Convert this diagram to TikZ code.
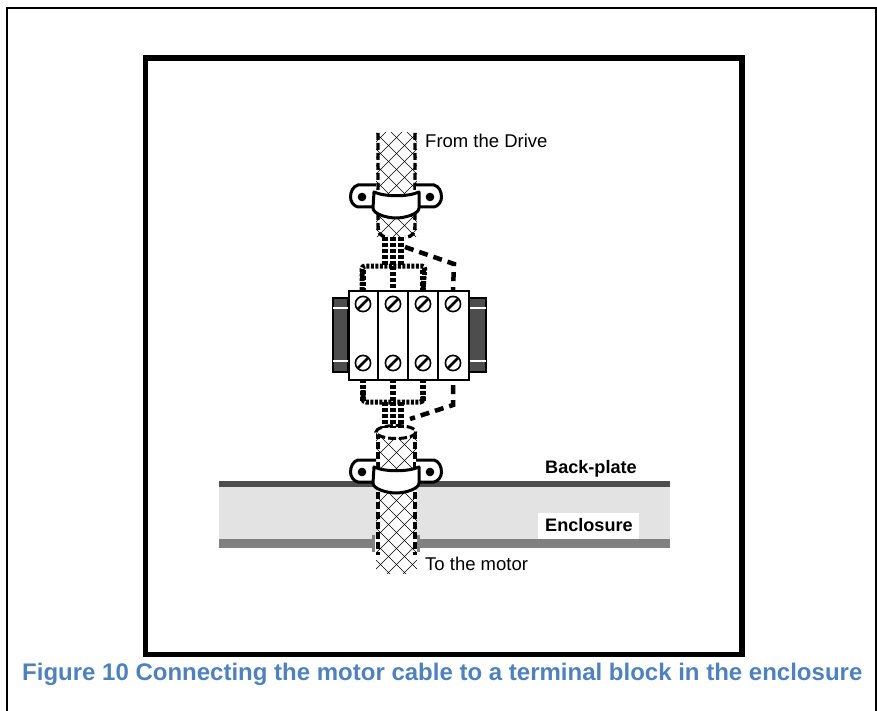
\documentclass[tikz,border=0pt]{standalone}
\usepackage{fontspec}
\setmainfont{Liberation Sans}
\definecolor{titleblue}{HTML}{4F81BD}
\definecolor{darkplate}{HTML}{4D4D4D}
\definecolor{midplate}{HTML}{808080}
\definecolor{lightplate}{HTML}{E3E3E3}
\newcommand{\braid}[2]{%
  \begin{scope}
    \clip (376,#1) rectangle (417,#2);
    \foreach \k in {-48,-32,...,304} {
      \draw[braidline] (376,#1+\k) -- ++(60,60);
      \draw[braidline] (417,#1+\k) -- ++(-60,60);
    }
  \end{scope}}
\newcommand{\clampshape}[1]{%
  \begin{scope}[yshift=-#1pt]
    \draw[clampline,fill=white] (376,185) -- (358,185) .. controls (353,186) and (350.5,192) .. (350.5,197) .. controls (350.5,201) and (353,206) .. (358,207) -- (376,207);
    \draw[clampline,fill=white] (416,185) -- (434,185) .. controls (439,186) and (441.5,192) .. (441.5,197) .. controls (441.5,201) and (439,206) .. (434,207) -- (416,207);
    \fill (362,197) circle (4.3);
    \fill (430,197) circle (4.3);
    \draw[clampline,fill=white,line join=round] (374,192) .. controls (385,197) and (408,197) .. (419,192) -- (419,208) .. controls (419,214) and (405,218) .. (396,218) .. controls (387,218) and (373,214) .. (373,208) -- cycle;
  \end{scope}}
\newcommand{\screw}[2]{%
  \draw[line width=1.6,fill=white] (#1,#2) circle (7.6);
  \draw[line width=2.8] (#1-5.4,#2+5.4) -- (#1+5.4,#2-5.4);}
\tikzset{
  x=1pt,y=-1pt,
  braidline/.style={line width=0.55,black},
  cableside/.style={line width=3.4,dash pattern=on 7pt off 3pt},
  clampline/.style={line width=3},
  wirefine/.style={line width=6,dash pattern=on 4pt off 2pt},
  wireloop/.style={line width=5,dash pattern=on 3pt off 1.5pt,rounded corners=3},
  wirecoarse/.style={line width=4.5,dash pattern=on 9pt off 6pt},
  labeltext/.style={font=\fontsize{18.5}{22}\selectfont,anchor=base west,inner sep=0},
  boldlabel/.style={font=\fontsize{18.1}{22}\selectfont\bfseries,anchor=base west,inner sep=0},
}
\begin{document}
\begin{tikzpicture}
\useasboundingbox (0,0) rectangle (877,711);
% frames
\draw[line width=2] (7,711) -- (7,8) -- (875.7,8) -- (875.7,711);
\draw[line width=5.6] (145.3,58) rectangle (741.7,654.5);
% plates
\fill[lightplate] (219,487) rectangle (670,539);
\fill[darkplate] (219,481) rectangle (670,487);
\fill[midplate] (219,539) rectangle (372,548);
\fill[midplate] (420,539) rectangle (670,548);
\fill[midplate] (372,535) rectangle (375,552);
\fill[midplate] (417,535) rectangle (420,552);
\fill[white] (377,470) rectangle (416,552);
\node[fill=white,minimum width=101,minimum height=26,inner sep=0,anchor=north west] (enclbox) at (538,513) {};
% top cable
\braid{133}{237}
\draw[cableside] (378,133) -- (378,225) .. controls (378,233) and (380,237) .. (388,237);
\draw[cableside] (415,133) -- (415,225) .. controls (415,233) and (413,237) .. (405,237);
\clampshape{0}
% top wires
\foreach \x in {385,393,401} \draw[wirefine] (\x,237) -- (\x,265);
\draw[wireloop] (362,290) -- (362,266) -- (425,266) -- (423,290);
\draw[wirefine] (393,266) -- (393,290);
\draw[wirefine] (363,270) -- (363,290);
\draw[wirefine] (423,270) -- (423,290);
\draw[wirecoarse] (405,247) -- (454,264) -- (453,290);
% lower cable
\braid{432}{573}
\draw[cableside] (378,432) -- (378,555);
\draw[cableside] (415,432) -- (415,555);
\draw[line width=3,dash pattern=on 8pt off 3pt,fill=white] (396,432) ellipse (20 and 6.5);
\clampshape{275}
% lower wires
\draw[wirefine] (363,379) -- (363,402);
\draw[wirefine] (393,379) -- (393,402);
\draw[wirefine] (423,379) -- (423,402);
\draw[wireloop] (363,390) -- (363,402) -- (423,402) -- (423,390);
\foreach \x in {385,393,401} \draw[wirefine] (\x,402) -- (\x,428);
\draw[wirecoarse] (453,385) -- (453,405) -- (410,419);
% terminal block
\draw[line width=2.5,fill=darkplate] (333,298) rectangle (348,372);
\draw[line width=2.5,fill=darkplate] (468,298) rectangle (486,372);
\foreach \y in {308,361} {
  \draw[white,line width=2.4] (333,\y) -- (348,\y);
  \draw[white,line width=2.4] (468,\y) -- (486,\y);
}
\node[draw,line width=2.2,fill=white,minimum width=120,minimum height=89,inner sep=0,anchor=north west] (block) at (348,290) {};
\foreach \x in {378,408,438} \draw[line width=2.2] (\x,290) -- (\x,379);
\foreach \x in {363,393,423,453} { \screw{\x}{304} \screw{\x}{363} }
% labels
\node[labeltext] (from) at (425,148) {From the Drive};
\node[labeltext] (to) at (425,570) {To the motor};
\node[boldlabel] (back) at (545,473) {Back-plate};
\node[boldlabel] (encl) at (545,531) {Enclosure};
\node[font=\fontsize{24}{28}\selectfont\bfseries,text=titleblue,anchor=base west,inner sep=0] (title) at (22,680) {Figure 10 Connecting the motor cable to a terminal block in the enclosure};
\end{tikzpicture}
\end{document}
